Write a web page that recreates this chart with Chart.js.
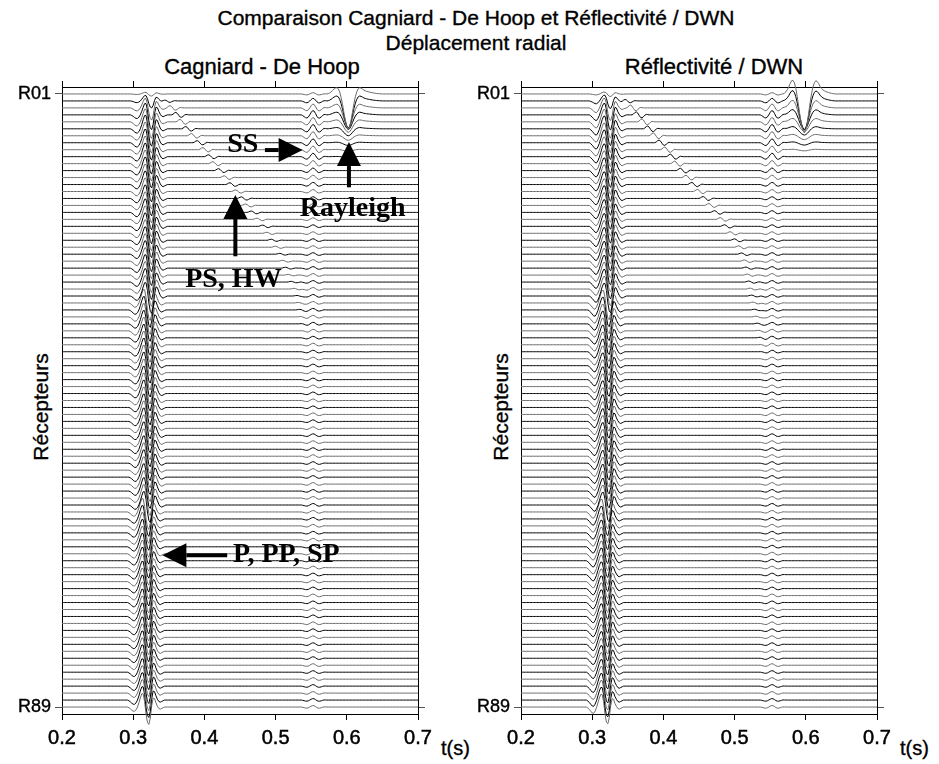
<!DOCTYPE html>
<html><head><meta charset="utf-8">
<script src="https://cdn.jsdelivr.net/npm/chart.js@4/dist/chart.umd.min.js"></script>
<style>
html,body{margin:0;padding:0;background:#fff;}
body{width:939px;height:764px;position:relative;overflow:hidden;font-family:"Liberation Sans",Arial,sans-serif;color:#000;}
.t{position:absolute;white-space:nowrap;line-height:1;-webkit-text-stroke:0.35px #000;}
canvas{position:absolute;top:0;}
</style></head><body>
<div class="t" style="left:176px;width:600px;text-align:center;top:7px;font-size:21px">Comparaison Cagniard - De Hoop et Réflectivité / DWN</div>
<div class="t" style="left:176px;width:600px;text-align:center;top:32px;font-size:21px">Déplacement radial</div>
<div class="t" style="left:112px;width:300px;text-align:center;top:56px;font-size:22px">Cagniard - De Hoop</div>
<div class="t" style="left:564px;width:300px;text-align:center;top:56px;font-size:22px">Réflectivité / DWN</div>
<div class="t" style="left:40px;top:407px;font-size:21px;transform:translate(-50%,-50%) rotate(-90deg)">Récepteurs</div>
<div class="t" style="left:500px;top:407px;font-size:21px;transform:translate(-50%,-50%) rotate(-90deg)">Récepteurs</div>
<div class="t" style="left:441px;top:738px;font-size:20px">t(s)</div>
<div class="t" style="left:900px;top:738px;font-size:20px">t(s)</div>
<canvas id="c1" width="470" height="764" style="left:0"></canvas>
<canvas id="c2" width="469" height="764" style="left:470px"></canvas>
<script>
// ---------------- axes ----------------
const T_MIN = 0.2, T_MAX = 0.7, DT = 0.002;
const X_TICKS = [0.2, 0.3, 0.4, 0.5, 0.6, 0.7];
const N_TRACES = 89;
const Y_TICK_TRACES = [1, 89];
const Y_TICK_LABELS = ['R01', 'R89'];

// ---------------- wavelets (amplitude in trace spacings, + = up), one sample every DT ----------------
const CDH_P_WAVELET = [0,-0.1,-0.25,-0.45,-0.6,-0.6,-0.4,0,0.6,1.3,1.9,1.9,0.8,-1.0,-2.2,-2.5,-1.6,0.2,1.3,1.2,0.6,0.1,-0.2,-0.3,-0.2,-0.1,0];
const DWN_P_WAVELET = [0,-0.15,-0.35,-0.6,-0.85,-0.9,-0.6,-0.1,0.6,1.3,1.8,1.8,0.8,-1.0,-2.2,-2.4,-1.5,0.2,1.2,1.1,0.5,0.1,-0.2,-0.3,-0.2,-0.1,0];
const PS_WAVELET = [0.15,0.4,0.5,0.3,-0.1,-0.45,-0.5,-0.3,-0.05,0.08,0.05,0];
const SS_WAVELET = [0,-0.1,-0.25,-0.4,-0.45,-0.3,0,0.35,0.6,0.55,0.2,-0.2,-0.45,-0.45,-0.3,-0.1,0.05,0.05,0];
const CDH_RAY_WAVELET = [0,0.05,0.15,0.3,0.5,0.7,0.85,0.9,0.75,0.3,-0.5,-1.5,-2.7,-3.8,-4.6,-5.0,-4.7,-3.8,-2.6,-1.4,-0.4,0.3,0.75,0.9,0.85,0.7,0.55,0.45,0.38,0.32,0.27,0.22,0.18,0.14,0.1,0.07,0.05,0.03,0.02,0];
const DWN_RAY_WAVELET = [0,0.1,0.3,0.6,1.0,1.5,1.9,1.95,1.6,0.8,-0.4,-1.8,-3.2,-4.4,-5.2,-5.6,-5.2,-4.2,-2.8,-1.3,0,1.0,1.6,1.9,1.8,1.5,1.1,0.8,0.6,0.45,0.35,0.27,0.2,0.14,0.09,0.05,0.02,0];

// ---------------- Cagniard - De Hoop : arrivals per receiver (R01..R89) ----------------
const CDH_P_START = [
0.296,0.296,0.296,0.296,0.296,0.296,0.296,0.296,0.296,0.296,
0.296,0.296,0.296,0.296,0.296,0.296,0.296,0.296,0.296,0.296,
0.296,0.296,0.296,0.296,0.296,0.296,0.296,0.296,0.296,0.296,
0.294,0.294,0.294,0.294,0.294,0.294,0.294,0.294,0.294,0.294,
0.294,0.294,0.294,0.294,0.294,0.294,0.294,0.294,0.294,0.294,
0.294,0.294,0.294,0.294,0.294,0.294,0.294,0.294,0.294,0.294,
0.292,0.292,0.292,0.292,0.292,0.292,0.292,0.292,0.292,0.292,
0.292,0.292,0.292,0.292,0.292,0.292,0.292,0.292,0.292,0.292,
0.292,0.292,0.292,0.292,0.292,0.292,0.292,0.292,0.292];
const CDH_P_AMP = [
0.12,0.4,0.7,0.85,0.95,1,1,1,1,1,
1,1,1,1,1,1,1,1,1,1,
1,1,1,1,1,1,1,1,1,1,
1,1,1,1,1,1,1,1,1,1,
1,1,1,1,1,1,1,1,1,1,
1,1,1,1,1,1,1,1,1,1,
1,1,1,1,1,1,1,1,1,1,
1,1,1,1,1,1,1,1,1,1,
1,1,1,1,1,1,1,1,1];
const CDH_PS_TRACE = [2,3,4,5,6,7,8,9,10,11,12,13,14,15,16,17,18,19,20,21,22,23,24,25,26,27,28,29,30,31,32,33,34,35];
const CDH_PS_START = [0.340,0.348,0.356,0.362,0.370,0.378,0.386,0.394,0.402,0.408,0.416,0.424,0.432,0.440,0.448,0.454,0.462,0.470,0.478,0.484,0.490,0.496,0.502,0.506,0.510,0.514,0.518,0.522,0.526,0.528,0.530,0.532,0.534,0.536];
const CDH_PS_AMP = [0.4,0.65,0.7,0.7,0.65,0.65,0.6,0.6,0.55,0.55,0.55,0.5,0.5,0.45,0.45,0.4,0.4,0.35,0.35,0.3,0.3,0.3,0.25,0.25,0.25,0.2,0.2,0.2,0.15,0.15,0.15,0.1,0.1,0.1];
const CDH_SS_START = 0.536;
const CDH_SS_AMP = [
0.3,0.6,0.9,1,1,1,0.95,0.9,0.85,0.8,
0.7,0.6,0.55,0.5,0.45,0.4,0.4,0.4,0.35,0.35,
0.35,0.35,0.35,0.35,0.35,0.35,0.35,0.35,0.35,0.35,
0.35,0.35,0.35,0.35,0.35,0.35,0.35,0.35,0.35,0.35,
0.35,0.35,0.35,0.35,0.35,0.35,0.35,0.35,0.35,0.35,
0.35,0.35,0.35,0.35,0.35,0.35,0.35,0.35,0.35,0.35,
0.35,0.35,0.35,0.35,0.35,0.35,0.35,0.35,0.35,0.35,
0.35,0.35,0.35,0.35,0.35,0.35,0.35,0.35,0.35,0.35,
0.35,0.35,0.35,0.35,0.35,0.35,0.35,0.35,0.35];
const CDH_RAY_START = 0.572;
const CDH_RAY_AMP = [1,0.78,0.58,0.42,0.3,0.2,0.13,0.08,0.05,0.03];

// ---------------- Réflectivité / DWN : arrivals per receiver (R01..R89) ----------------
const DWN_P_START = CDH_P_START.slice();
const DWN_P_AMP = [
0.15,0.45,0.75,0.9,0.97,1,1,1,1,1,
1,1,1,1,1,1,1,1,1,1,
1,1,1,1,1,1,1,1,1,1,
1,1,1,1,1,1,1,1,1,1,
1,1,1,1,1,1,1,1,1,1,
1,1,1,1,1,1,1,1,1,1,
1,1,1,1,1,1,1,1,1,1,
1,1,1,1,1,1,1,1,1,1,
1,1,1,1,1,1,1,1,1];
const DWN_PS_TRACE = [2,3,4,5,6,7,8,9,10,11,12,13,14,15,16,17,18,19,20,21,22,23,24,25,26,27,28,29,30,31,32,33,34,35,36,37,38];
const DWN_PS_START = [0.342,0.350,0.358,0.366,0.374,0.382,0.390,0.398,0.406,0.412,0.420,0.428,0.436,0.444,0.452,0.460,0.468,0.476,0.482,0.490,0.496,0.502,0.506,0.510,0.512,0.514,0.516,0.518,0.520,0.522,0.524,0.526,0.528,0.530,0.532,0.534,0.536];
const DWN_PS_AMP = [0.5,0.8,0.85,0.85,0.8,0.8,0.75,0.75,0.7,0.7,0.65,0.65,0.6,0.6,0.55,0.55,0.5,0.5,0.45,0.45,0.4,0.4,0.35,0.35,0.3,0.3,0.3,0.25,0.25,0.25,0.2,0.2,0.2,0.15,0.15,0.1,0.1];
const DWN_SS_START = 0.536;
const DWN_SS_AMP = CDH_SS_AMP.slice();
const DWN_RAY_START = 0.568;
const DWN_RAY_AMP = [1,0.75,0.55,0.38,0.25,0.16,0.1,0.06,0.03];

// ---------------- annotations (left panel, in data coordinates: time, receiver) ----------------
const NOTE_TEXT = ['SS', 'Rayleigh', 'PS, HW', 'P, PP, SP'];
const NOTE_POS  = [[0.432, 9.3], [0.534, 18.5], [0.373, 28.7], [0.440, 68.2]];
const ARROW_TAIL = [[0.485, 9.05], [0.603, 14.4], [0.4435, 24.3], [0.432, 67.2]];
const ARROW_TIP  = [[0.538, 9.05], [0.603, 7.9], [0.4435, 15.5], [0.341, 67.2]];

// ---------------- build traces ----------------
const N_T = Math.round((T_MAX - T_MIN) / DT) + 1;
const TIME = [];
for (let i = 0; i < N_T; i++) TIME.push(+(T_MIN + i * DT).toFixed(4));

function addEvent(arr, wavelet, start, amp) {
  const i0 = Math.round((start - T_MIN) / DT);
  for (let j = 0; j < wavelet.length; j++) {
    const i = i0 + j;
    if (i >= 0 && i < arr.length) arr[i] += amp * wavelet[j];
  }
}
function buildPanel(pW, pStart, pAmp, psTr, psStart, psAmp, ssStart, ssAmp, rayW, rayStart, rayAmp) {
  const traces = [];
  for (let k = 0; k < N_TRACES; k++) {
    const a = new Array(N_T).fill(0);
    addEvent(a, pW, pStart[k], pAmp[k]);
    const p = psTr.indexOf(k + 1);
    if (p >= 0) addEvent(a, PS_WAVELET, psStart[p], psAmp[p]);
    addEvent(a, SS_WAVELET, ssStart, ssAmp[k]);
    if (k < rayAmp.length) addEvent(a, rayW, rayStart, rayAmp[k]);
    traces.push(TIME.map((t, i) => ({ x: t, y: (k + 1) - a[i] })));
  }
  return traces;
}
const CDH = buildPanel(CDH_P_WAVELET, CDH_P_START, CDH_P_AMP, CDH_PS_TRACE, CDH_PS_START, CDH_PS_AMP, CDH_SS_START, CDH_SS_AMP, CDH_RAY_WAVELET, CDH_RAY_START, CDH_RAY_AMP);
const DWN = buildPanel(DWN_P_WAVELET, DWN_P_START, DWN_P_AMP, DWN_PS_TRACE, DWN_PS_START, DWN_PS_AMP, DWN_SS_START, DWN_SS_AMP, DWN_RAY_WAVELET, DWN_RAY_START, DWN_RAY_AMP);

// ---------------- charts ----------------
const FONT = '"Liberation Sans", Arial, sans-serif';
const annotationPlugin = {
  id: 'notes',
  afterDatasetsDraw(chart) {
    const xs = chart.scales.x, ys = chart.scales.y, ctx = chart.ctx;
    ctx.save();
    ctx.fillStyle = '#000'; ctx.strokeStyle = '#000';
    ctx.font = 'bold 28px "Liberation Serif", "Times New Roman", serif';
    ctx.textAlign = 'left'; ctx.textBaseline = 'alphabetic';
    NOTE_TEXT.forEach((txt, i) => {
      ctx.fillText(txt, xs.getPixelForValue(NOTE_POS[i][0]), ys.getPixelForValue(NOTE_POS[i][1]));
      const x0 = xs.getPixelForValue(ARROW_TAIL[i][0]), y0 = ys.getPixelForValue(ARROW_TAIL[i][1]);
      const x1 = xs.getPixelForValue(ARROW_TIP[i][0]), y1 = ys.getPixelForValue(ARROW_TIP[i][1]);
      const ang = Math.atan2(y1 - y0, x1 - x0), L = 24, W = 12;
      const bx = x1 - L * Math.cos(ang), by = y1 - L * Math.sin(ang);
      ctx.lineWidth = 4;
      ctx.beginPath(); ctx.moveTo(x0, y0); ctx.lineTo(bx, by); ctx.stroke();
      ctx.beginPath();
      ctx.moveTo(x1, y1);
      ctx.lineTo(bx + W * Math.sin(ang), by - W * Math.cos(ang));
      ctx.lineTo(bx - W * Math.sin(ang), by + W * Math.cos(ang));
      ctx.closePath(); ctx.fill();
    });
    ctx.restore();
  }
};

function makeChart(id, traces, box, notes) {
  const xScale = (pos, show, h) => ({
    type: 'linear', position: pos, min: T_MIN, max: T_MAX,
    afterBuildTicks: s => { s.ticks = X_TICKS.map(v => ({ value: v })); },
    ticks: { display: show, color: '#000', font: { family: FONT, size: 20 }, padding: 6, maxRotation: 0,
             textStrokeColor: '#000', textStrokeWidth: 0.5,
             callback: v => v.toFixed(1) },
    grid: { drawOnChartArea: false, drawTicks: true, tickLength: 6, color: '#000', lineWidth: 1 },
    border: { display: true, color: '#000', width: 1 },
    afterFit: s => { s.height = h; }
  });
  const yScale = (pos, show, w) => ({
    type: 'linear', position: pos, reverse: true, min: 0, max: N_TRACES + 1,
    afterBuildTicks: s => { s.ticks = Y_TICK_TRACES.map(v => ({ value: v })); },
    ticks: { display: show, color: '#000', font: { family: FONT, size: 18 }, padding: 4,
             textStrokeColor: '#000', textStrokeWidth: 0.4,
             callback: v => Y_TICK_LABELS[Y_TICK_TRACES.indexOf(v)] },
    grid: { drawOnChartArea: false, drawTicks: true, tickLength: 7, color: '#555', lineWidth: 1 },
    border: { display: true, color: '#000', width: 1 },
    afterFit: s => { s.width = w; }
  });
  return new Chart(document.getElementById(id), {
    type: 'line',
    data: { datasets: traces.map((pts, k) => ({
      data: pts, borderColor: k % 2 ? '#000' : '#6a6a6a', borderWidth: 1,
      pointRadius: 0, tension: 0, fill: false, clip: false })) },
    options: {
      responsive: false, animation: false, parsing: false, normalized: true, events: [],
      layout: { padding: 0 },
      plugins: { legend: { display: false }, tooltip: { enabled: false }, title: { display: false } },
      scales: {
        x: xScale('bottom', true, box.bottom),
        xTop: xScale('top', false, box.top),
        y: yScale('left', true, box.left),
        yR: yScale('right', false, box.right)
      }
    },
    plugins: notes ? [annotationPlugin] : []
  });
}
makeChart('c1', CDH, { left: 62, right: 52, top: 87, bottom: 50 }, true);
makeChart('c2', DWN, { left: 51, right: 62, top: 87, bottom: 50 }, false);
</script>
</body></html>
